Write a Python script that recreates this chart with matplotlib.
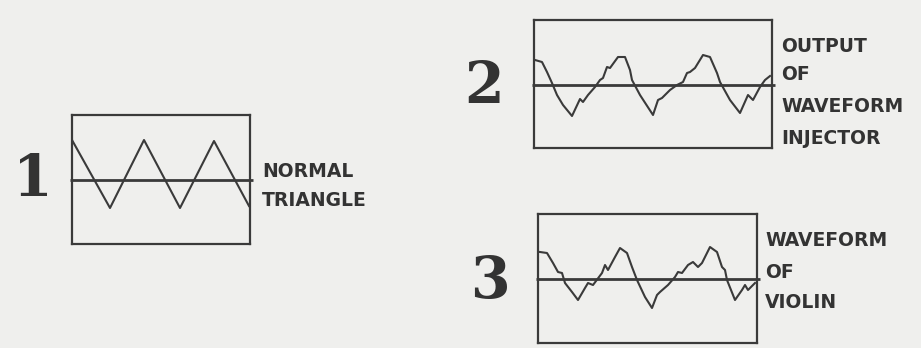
import matplotlib.pyplot as plt

W, H = 921, 348
INK = "#3a3a3a"
BG = "#efefed"

# waveform samples: x = pixels from the left edge of the box, y = offset from the centre line (up +)
tri_x = [0, 38, 72, 108, 142, 177]
tri_y = [40, -28, 40, -28, 39, -26]

inj_x = [1, 8, 13, 18, 23, 29, 38, 46, 49, 54, 61, 66, 69, 73, 76, 84, 91, 96, 98, 106,
         119, 124, 128, 136, 143, 149, 153, 156, 161, 169, 176, 183, 186, 196, 206, 214,
         219, 226, 231, 236]
inj_y = [25, 23, 13, 2, -10, -20, -31, -14, -17, -10, -2, 5, 7, 18, 17, 28, 28, 15, 5, -10,
         -30, -15, -13, -5, 0, 3, 12, 13, 17, 30, 28, 12, 3, -15, -28, -10, -15, -2, 5, 9]

vio_x = [2, 9, 15, 20, 24, 27, 34, 40, 47, 50, 55, 64, 67, 70, 77, 82, 89, 94, 99, 107,
         114, 119, 122, 130, 137, 140, 144, 150, 155, 160, 164, 172, 179, 184, 187, 189,
         197, 204, 207, 210, 217]
vio_y = [27, 26, 16, 7, 6, -4, -13, -21, -9, -4, -6, 6, 14, 9, 22, 31, 26, 12, -1, -18,
         -29, -16, -13, -6, 2, 7, 6, 14, 17, 12, 16, 32, 27, 12, 9, -1, -21, -11, -6, -11, -4]

numbers = ["1", "2", "3"]
labels = [["NORMAL", "TRIANGLE"],
          ["OUTPUT", "OF", "WAVEFORM", "INJECTOR"],
          ["WAVEFORM", "OF", "VIOLIN"]]

# box (left, top, right, bottom, centre line y) in pixels, number position, label x and rows
panels = [
    dict(box=(72, 115, 250, 244, 180), num=(33, 180), lab_x=262, lab_y=[172, 201],
         x=tri_x, y=tri_y),
    dict(box=(534, 20, 772, 148, 85), num=(484, 87), lab_x=781, lab_y=[46, 75, 107, 138],
         x=inj_x, y=inj_y),
    dict(box=(538, 214, 757, 343, 279), num=(490, 282), lab_x=765, lab_y=[240, 272, 303],
         x=vio_x, y=vio_y),
]

fig = plt.figure(figsize=(W / 100, H / 100), dpi=100)
fig.patch.set_facecolor(BG)

for p, num, lab in zip(panels, numbers, labels):
    l, t, r, b, c = p["box"]
    ax = fig.add_axes([l / W, 1 - b / H, (r - l) / W, (b - t) / H])
    ax.set_facecolor("none")
    ax.set_xlim(0, r - l)
    ax.set_ylim(-(b - c), c - t)
    for s in ax.spines.values():
        s.set_color(INK)
        s.set_linewidth(1.6)
    ax.set_xticks([])
    ax.set_yticks([])
    ax.plot([-2, r - l + 3], [0, 0], color=INK, lw=2.0, clip_on=False,
            solid_capstyle="butt")
    ax.plot(p["x"], p["y"], color=INK, lw=1.5, solid_joinstyle="round")

    nx, ny = p["num"]
    fig.text(nx / W, 1 - ny / H, num, ha="center", va="center", fontsize=41,
             family="DejaVu Serif", weight="bold", color="#333333")
    for txt, yy in zip(lab, p["lab_y"]):
        fig.text(p["lab_x"] / W, 1 - yy / H, txt, ha="left", va="center", fontsize=13.5,
                 family="DejaVu Sans", weight="bold", color="#333333")

fig.savefig("out.png", dpi=100, facecolor=BG)
